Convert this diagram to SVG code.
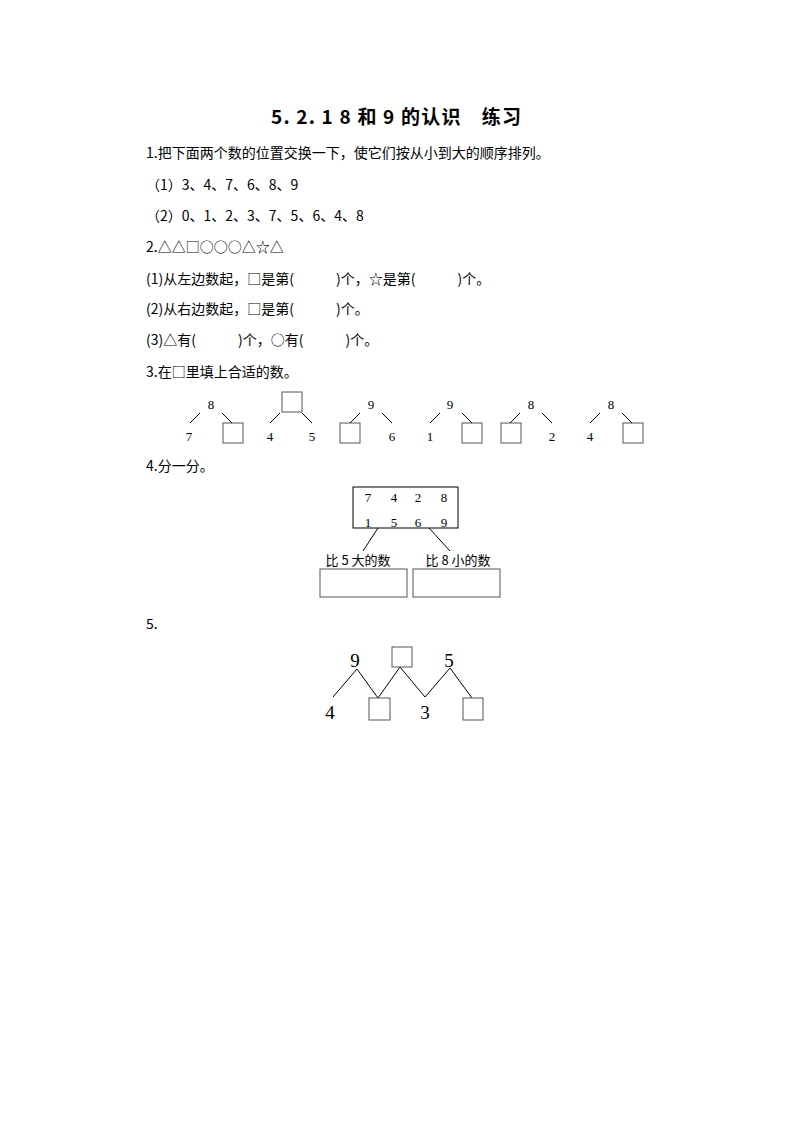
<svg xmlns="http://www.w3.org/2000/svg" width="794" height="1123" viewBox="0 0 794 1123">
<style>
.t{font-family:"Noto Sans CJK SC","Liberation Serif",sans-serif;font-size:14px;fill:#000}
.s{font-family:"Noto Sans CJK SC",sans-serif;font-size:13px;fill:#000;text-anchor:middle}
.n{font-family:"Liberation Serif",serif;font-size:13px;fill:#000;text-anchor:middle}
.b{font-family:"Liberation Serif",serif;font-size:19px;fill:#000;text-anchor:middle}
.l{stroke:#000;stroke-width:1;fill:none}
.bx{stroke:#555;stroke-width:1;fill:#fff}
</style>
<rect width="794" height="1123" fill="#fff"/>
<text x="271" y="124" font-family="Noto Sans CJK SC,sans-serif" font-size="19" font-weight="bold" textLength="250" lengthAdjust="spacing">5. 2. 1 8 和 9 的认识　练习</text>
<g id="q1">
<text class="t" x="146" y="158">1.把下面两个数的位置交换一下，使它们按从小到大的顺序排列。</text>
<text class="t" x="146" y="190">（1）3、4、7、6、8、9</text>
<text class="t" x="146" y="221">（2）0、1、2、3、7、5、6、4、8</text>
</g>
<g id="q2">
<text class="t" x="146" y="252">2.△△□○○○△☆△</text>
<text class="t" x="146" y="284">(1)从左边数起，□是第(　　　)个，☆是第(　　　)个。</text>
<text class="t" x="146" y="314">(2)从右边数起，□是第(　　　)个。</text>
<text class="t" x="146" y="345">(3)△有(　　　)个，○有(　　　)个。</text>
<text class="t" x="146" y="377">3.在□里填上合适的数。</text>
</g>
<g id="q3">
<text class="n" x="211" y="409">8</text><text class="n" x="189" y="441">7</text><rect class="bx" x="223" y="423" width="20" height="20"/>
<rect class="bx" x="282" y="392" width="20" height="20"/><text class="n" x="270" y="441">4</text><text class="n" x="312" y="441">5</text>
<text class="n" x="371" y="409">9</text><rect class="bx" x="340" y="423" width="20" height="20"/><text class="n" x="392" y="441">6</text>
<text class="n" x="450" y="409">9</text><text class="n" x="430" y="441">1</text><rect class="bx" x="462" y="423" width="20" height="20"/>
<text class="n" x="531" y="409">8</text><rect class="bx" x="501" y="423" width="20" height="20"/><text class="n" x="552" y="441">2</text>
<text class="n" x="611" y="409">8</text><text class="n" x="590" y="441">4</text><rect class="bx" x="623" y="423" width="20" height="20"/>
</g>
<g id="connectors">
<path class="l" d="M190 423L200 413M222 413L232 423M270 423L280 413M302 413L312 423M350 423L360 413M382 413L392 423M430 423L440 413M462 413L472 423M510 423L520 413M542 413L552 423M590 423L600 413M622 413L632 423"/>
<path class="l" d="M378 528L363 551M429 528L450 551"/>
<path class="l" d="M357 669L333 697M357 669L378 698M400 667L378 698M400 667L425 697M425 697L450 668M450 668L472 698"/>
</g>
<g id="q4">
<text class="t" x="146" y="471">4.分一分。</text>
<rect class="l" x="353" y="487" width="105" height="41"/>
<text class="n" x="368" y="502">7</text><text class="n" x="394" y="502">4</text><text class="n" x="418" y="502">2</text><text class="n" x="444" y="502">8</text>
<text class="n" x="368" y="527">1</text><text class="n" x="394" y="527">5</text><text class="n" x="418" y="527">6</text><text class="n" x="444" y="527">9</text>
<text class="s" x="358" y="565">比 5 大的数</text>
<text class="s" x="458" y="565">比 8 小的数</text>
<rect class="bx" x="320" y="569" width="87" height="28"/>
<rect class="bx" x="413" y="569" width="87" height="28"/>
</g>
<g id="q5">
<text class="t" x="146" y="629">5.</text>
<text class="b" x="355" y="667">9</text>
<rect class="bx" x="392" y="647" width="20" height="20"/>
<text class="b" x="449" y="667">5</text>
<text class="b" x="330" y="719">4</text>
<rect class="bx" x="369" y="698" width="21" height="22"/>
<text class="b" x="425" y="719">3</text>
<rect class="bx" x="463" y="698" width="20" height="22"/>
</g>
</svg>
